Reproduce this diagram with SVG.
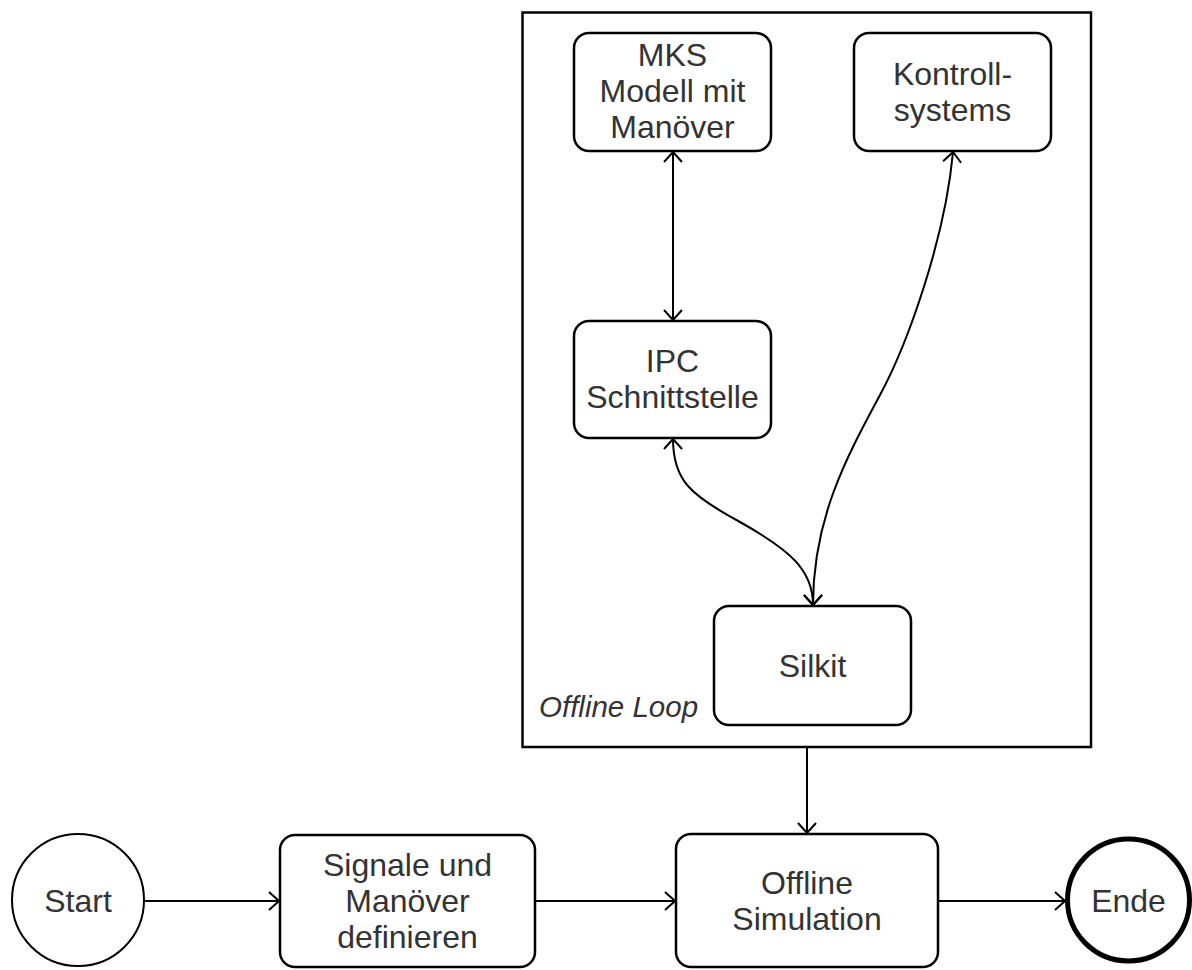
<svg xmlns="http://www.w3.org/2000/svg" width="1192" height="970" viewBox="0 0 1192 970">
<style>
.box{fill:#fff;stroke:#000;stroke-width:2.5}
.frame{fill:#fff;stroke:#000;stroke-width:2.5}
.t{font-family:"Liberation Sans",Arial,sans-serif;font-size:32px;fill:#333;text-anchor:middle}
.it{font-family:"Liberation Sans",Arial,sans-serif;font-size:29.5px;fill:#333;font-style:italic}
.c{fill:none;stroke:#000;stroke-width:2}
</style>
<defs>
<marker id="ar" viewBox="0 0 12 20" refX="11" refY="10" markerWidth="12" markerHeight="20" markerUnits="userSpaceOnUse" orient="auto-start-reverse">
<path d="M1,1 L11,10 L1,19" fill="none" stroke="#000" stroke-width="2"/>
</marker>
</defs>
<g id="frame">
<rect class="frame" x="522.5" y="12.5" width="568.5" height="734.5"/>
<text class="it" x="539" y="717">Offline Loop</text>
</g>
<g id="mks">
<rect class="box" x="574" y="33" width="197" height="118" rx="15"/>
<text class="t" x="672.5" y="66">MKS</text>
<text class="t" x="672.5" y="102">Modell mit</text>
<text class="t" x="672.5" y="138">Manöver</text>
</g>
<g id="kontroll">
<rect class="box" x="854" y="33" width="197" height="118" rx="15"/>
<text class="t" x="952.5" y="85">Kontroll-</text>
<text class="t" x="952.5" y="121">systems</text>
</g>
<g id="ipc">
<rect class="box" x="574" y="321" width="197" height="117" rx="15"/>
<text class="t" x="672.5" y="372">IPC</text>
<text class="t" x="672.5" y="408">Schnittstelle</text>
</g>
<g id="silkit">
<rect class="box" x="714" y="606" width="197" height="119" rx="15"/>
<text class="t" x="812.5" y="677">Silkit</text>
</g>
<g id="start">
<circle cx="78" cy="900" r="66" fill="#fff" stroke="#000" stroke-width="2"/>
<text class="t" x="78" y="912">Start</text>
</g>
<g id="signale">
<rect class="box" x="280" y="835" width="255" height="132" rx="15"/>
<text class="t" x="407.5" y="876">Signale und</text>
<text class="t" x="407.5" y="912">Manöver</text>
<text class="t" x="407.5" y="948">definieren</text>
</g>
<g id="offsim">
<rect class="box" x="676" y="834" width="262" height="133" rx="15"/>
<text class="t" x="807" y="894">Offline</text>
<text class="t" x="807" y="930">Simulation</text>
</g>
<g id="ende">
<circle cx="1128.5" cy="900" r="61" fill="#fff" stroke="#000" stroke-width="5"/>
<text class="t" x="1128.5" y="912">Ende</text>
</g>
<g id="connectors">
<path class="c" d="M673,152 L673,320" marker-start="url(#ar)" marker-end="url(#ar)"/>
<path class="c" d="M673,439 C673,480 690,495 740,522 C790,550 813,570 813,605" marker-start="url(#ar)" marker-end="url(#ar)"/>
<path class="c" d="M813,605 C813,520 845,460 880,395 C907,345 945,240 953,152" marker-start="url(#ar)" marker-end="url(#ar)"/>
<path class="c" d="M807,747 L807,833" marker-end="url(#ar)"/>
<path class="c" d="M144,901 L279,901" marker-end="url(#ar)"/>
<path class="c" d="M535,901 L675,901" marker-end="url(#ar)"/>
<path class="c" d="M938,901 L1065,901" marker-end="url(#ar)"/>
</g>
</svg>
